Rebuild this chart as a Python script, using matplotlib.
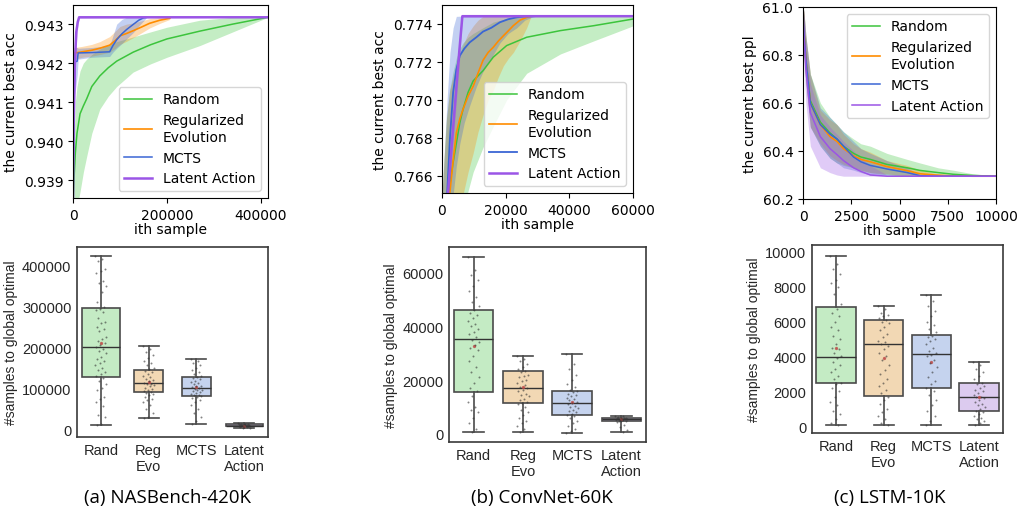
import numpy as np
import matplotlib
matplotlib.use('Agg')
import matplotlib.pyplot as plt
from matplotlib.ticker import FormatStrFormatter

# ---------------- curve data ----------------
methods = ['Random', 'Regularized\nEvolution', 'MCTS', 'Latent Action']
colors = ['#3cc43c', '#ff8c00', '#3a66d4', '#9b55e6']

# NASBench-420K
nas_rand_x = [0, 2000, 5000, 8500, 15000, 22000, 29000, 40000, 57000, 75000, 93000,
              128000, 165000, 200000, 270000, 340000, 415000]
nas_rand_mean = [0.9384, 0.9390, 0.9397, 0.9402, 0.9407, 0.9409, 0.94108, 0.94140, 0.94167,
                 0.94188, 0.94205, 0.94228, 0.94247, 0.94262, 0.94282, 0.94300, 0.943175]
nas_rand_low = [0.9380, 0.9380, 0.9381, 0.9383, 0.9387, 0.9392, 0.9396, 0.9402, 0.94082,
                0.94115, 0.94140, 0.94177, 0.94198, 0.94215, 0.94245, 0.94280, 0.943175]
nas_rand_high = [0.9386, 0.9400, 0.9410, 0.9414, 0.9418, 0.9420, 0.94210, 0.94222, 0.94236,
                 0.94247, 0.94255, 0.94267, 0.94280, 0.94292, 0.94310, 0.943175, 0.943175]

nas_reg_x = [0, 1500, 4000, 20000, 40000, 57000, 78000, 90000, 100000, 114000, 128000,
             145000, 163000, 185000, 206000]
nas_reg_mean = [0.9412, 0.9420, 0.94226, 0.94229, 0.94233, 0.94238, 0.94246, 0.94258, 0.94270,
                0.94276, 0.94283, 0.94292, 0.94302, 0.94310, 0.94315]
nas_reg_low = [0.9405, 0.9415, 0.94210, 0.94215, 0.94218, 0.94222, 0.94228, 0.94238, 0.94248,
               0.94256, 0.94265, 0.94277, 0.94290, 0.94302, 0.94312]
nas_reg_high = [0.9418, 0.9424, 0.94240, 0.94243, 0.94248, 0.94255, 0.94268, 0.94282, 0.94294,
                0.94300, 0.94303, 0.94308, 0.94314, 0.94317, 0.943175]

nas_mcts_x = [0, 1500, 4000, 9000, 11000, 40000, 78000, 85000, 93000, 104000, 114000,
              128000, 140000, 150000, 157000]
nas_mcts_mean = [0.9385, 0.9405, 0.94203, 0.94205, 0.94226, 0.94227, 0.94229, 0.94245, 0.94260,
                 0.94275, 0.94286, 0.94299, 0.94310, 0.94316, 0.943175]
nas_mcts_low = [0.9380, 0.9390, 0.9412, 0.9417, 0.9421, 0.94215, 0.94217, 0.94228, 0.94238,
                0.94250, 0.94262, 0.94278, 0.94295, 0.94308, 0.943175]
nas_mcts_high = [0.9390, 0.9418, 0.9424, 0.9424, 0.94238, 0.94240, 0.94245, 0.94270, 0.94300,
                 0.94312, 0.943175, 0.943175, 0.943175, 0.943175, 0.943175]

nas_lat_x = [0, 1500, 4000, 7000, 10000, 13000, 415000]
nas_lat_mean = [0.9384, 0.9405, 0.9420, 0.9428, 0.94305, 0.943175, 0.943175]
nas_lat_low = [0.9380, 0.9400, 0.9416, 0.9425, 0.9429, 0.94315, 0.943175]
nas_lat_high = [0.9388, 0.9410, 0.9424, 0.9430, 0.94315, 0.943175, 0.943175]

# ConvNet-60K
conv_rand_x = [0, 1400, 2400, 3500, 4500, 5600, 6600, 8200, 9800, 12900, 16100, 20300,
               26600, 37200, 47700, 60000]
conv_rand_mean = [0.7600, 0.7640, 0.7655, 0.7667, 0.7677, 0.76879, 0.7695, 0.7704, 0.7710,
                  0.77154, 0.77225, 0.77286, 0.77330, 0.77365, 0.77391, 0.77426]
conv_rand_low = [0.7550, 0.7580, 0.7600, 0.7615, 0.7625, 0.7635, 0.7642, 0.7652, 0.7662,
                 0.7675, 0.7686, 0.7700, 0.7714, 0.77242, 0.77311, 0.7739]
conv_rand_high = [0.7650, 0.7690, 0.7705, 0.7715, 0.7722, 0.7727, 0.7730, 0.7733, 0.7735,
                  0.7738, 0.7741, 0.77428, 0.77441, 0.77441, 0.77441, 0.77441]

conv_reg_x = [0, 1400, 2400, 3500, 4500, 5600, 6600, 8200, 9800, 11300, 12900, 14500,
              16100, 17700, 19300, 20900, 22400, 24500, 26600, 28000]
conv_reg_mean = [0.7600, 0.7630, 0.7650, 0.7668, 0.76826, 0.7690, 0.7695, 0.7702, 0.77072,
                 0.7714, 0.77209, 0.7725, 0.77277, 0.7731, 0.77338, 0.77365, 0.77391, 0.7742,
                 0.77435, 0.77441]
conv_reg_low = [0.7550, 0.7570, 0.7590, 0.7610, 0.7625, 0.7640, 0.7650, 0.7662, 0.7672,
                0.7683, 0.7692, 0.7700, 0.7705, 0.7712, 0.7718, 0.7722, 0.7725, 0.7731,
                0.7738, 0.77441]
conv_reg_high = [0.7650, 0.7690, 0.7705, 0.7712, 0.7718, 0.7724, 0.7729, 0.7735, 0.7739,
                 0.7742, 0.7744, 0.77441, 0.77441, 0.77441, 0.77441, 0.77441, 0.77441,
                 0.77441, 0.77441, 0.77441]

conv_mcts_x = [0, 1600, 2500, 3500, 4500, 5600, 7000, 8700, 10800, 12900, 15500, 18200,
               20800, 23500, 26000, 29000]
conv_mcts_mean = [0.7600, 0.7650, 0.7680, 0.7704, 0.7716, 0.77233, 0.7727, 0.77303, 0.7733,
                  0.7736, 0.7738, 0.77409, 0.77425, 0.77435, 0.77440, 0.77441]
conv_mcts_low = [0.7550, 0.7600, 0.7630, 0.7650, 0.7665, 0.7677, 0.7688, 0.7697, 0.7707,
                 0.7715, 0.7722, 0.7730, 0.7735, 0.7738, 0.7742, 0.77441]
conv_mcts_high = [0.7650, 0.7700, 0.7725, 0.7738, 0.7744, 0.77441, 0.77441, 0.77441, 0.77441,
                  0.77441, 0.77441, 0.77441, 0.77441, 0.77441, 0.77441, 0.77441]

conv_lat_x = [0, 1900, 3000, 4200, 5400, 6400, 60000]
conv_lat_mean = [0.7620, 0.7651, 0.7675, 0.7700, 0.7725, 0.77441, 0.77441]
conv_lat_low = [0.7610, 0.7645, 0.7668, 0.7692, 0.7718, 0.77435, 0.77441]
conv_lat_high = [0.7630, 0.7658, 0.7683, 0.7708, 0.7732, 0.77441, 0.77441]

# LSTM-10K
lstm_x = [0, 50, 150, 380, 900, 1400, 1760, 2100, 2620, 3000, 3490, 4350, 5400, 6070,
          7000, 7790, 8800, 10000]
lstm_rand_mean = [61.0, 60.9, 60.78, 60.61, 60.52, 60.475, 60.45, 60.42, 60.39, 60.375,
                  60.365, 60.344, 60.33, 60.319, 60.31, 60.303, 60.298, 60.295]
lstm_rand_low = [61.0, 60.8, 60.68, 60.5, 60.42, 60.37, 60.35, 60.34, 60.33, 60.32, 60.31,
                 60.30, 60.295, 60.295, 60.295, 60.295, 60.295, 60.295]
lstm_rand_high = [61.0, 60.98, 60.88, 60.72, 60.60, 60.54, 60.51, 60.48, 60.45, 60.43, 60.42,
                  60.39, 60.365, 60.35, 60.33, 60.32, 60.305, 60.295]
lstm_reg_mean = [61.0, 60.9, 60.78, 60.60, 60.51, 60.46, 60.44, 60.41, 60.38, 60.365, 60.355,
                 60.335, 60.318, 60.305, 60.299, 60.296, 60.295, 60.295]
lstm_reg_low = [61.0, 60.8, 60.68, 60.5, 60.43, 60.38, 60.36, 60.345, 60.33, 60.32, 60.31,
                60.305, 60.295, 60.295, 60.295, 60.295, 60.295, 60.295]
lstm_reg_high = [61.0, 60.98, 60.88, 60.72, 60.57, 60.53, 60.51, 60.47, 60.43, 60.41, 60.395,
                 60.36, 60.34, 60.32, 60.305, 60.298, 60.295, 60.295]
lstm_mcts_mean = [61.0, 60.9, 60.78, 60.60, 60.51, 60.47, 60.45, 60.42, 60.375, 60.355, 60.34,
                  60.325, 60.31, 60.297, 60.295, 60.295, 60.295, 60.295]
lstm_mcts_low = [61.0, 60.8, 60.68, 60.5, 60.42, 60.37, 60.35, 60.33, 60.32, 60.31, 60.30,
                 60.30, 60.295, 60.295, 60.295, 60.295, 60.295, 60.295]
lstm_mcts_high = [61.0, 60.98, 60.88, 60.72, 60.58, 60.54, 60.51, 60.48, 60.44, 60.41, 60.39,
                  60.36, 60.33, 60.30, 60.295, 60.295, 60.295, 60.295]
lstm_lat_mean = [61.0, 60.88, 60.74, 60.56, 60.46, 60.41, 60.385, 60.36, 60.33, 60.315, 60.30,
                 60.295, 60.295, 60.295, 60.295, 60.295, 60.295, 60.295]
lstm_lat_low = [61.0, 60.75, 60.6, 60.42, 60.33, 60.31, 60.30, 60.295, 60.295, 60.295, 60.295,
                60.295, 60.295, 60.295, 60.295, 60.295, 60.295, 60.295]
lstm_lat_high = [61.0, 60.98, 60.86, 60.68, 60.55, 60.50, 60.47, 60.44, 60.40, 60.37, 60.34,
                 60.30, 60.295, 60.295, 60.295, 60.295, 60.295, 60.295]

# ---------------- box plot data ----------------
box_labels = ['Rand', 'Reg\nEvo', 'MCTS', 'Latent\nAction']
box_colors = ['#c4ebc4', '#f2d8b4', '#c5d3ee', '#dccbef']

# (whislo, q1, med, q3, whishi, mean)
nas_stats = [(10500, 127600, 199300, 295000, 421000, 209000),
             (26000, 89500, 111500, 144000, 203000, 115000),
             (12000, 81300, 100000, 126000, 170700, 103000),
             (3000, 6500, 8500, 11000, 14000, 8500)]
conv_stats = [(850, 15700, 35250, 45900, 65600, 32600),
              (850, 11500, 17200, 23300, 28900, 17500),
              (300, 7050, 11500, 15850, 29600, 11800),
              (850, 4950, 5500, 5950, 6800, 5400)]
lstm_stats = [(90, 2460, 3970, 6820, 9750, 4500),
              (90, 1720, 4700, 6090, 6910, 3900),
              (90, 2180, 4125, 5230, 7520, 3700),
              (90, 895, 1660, 2460, 3700, 1650)]

nas_points = [
    [421, 415, 410, 390, 385, 380, 360, 355, 350, 335, 310, 298, 292, 290, 285, 270, 262, 258,
     250, 245, 240, 225, 220, 215, 210, 205, 200, 195, 190, 185, 175, 170, 165, 160, 155, 150,
     145, 140, 135, 130, 125, 118, 110, 100, 95, 78, 72, 65, 55, 35, 30, 12, 10],
    [203, 195, 188, 180, 172, 165, 160, 155, 150, 146, 142, 138, 135, 130, 126, 122, 119, 116,
     113, 111, 109, 107, 104, 101, 98, 95, 92, 90, 88, 85, 82, 78, 74, 70, 65, 58, 50, 40, 30, 26],
    [171, 165, 160, 155, 150, 145, 140, 135, 130, 127, 124, 121, 118, 115, 112, 109, 106, 104,
     102, 100, 98, 96, 94, 92, 90, 88, 86, 84, 82, 80, 78, 75, 70, 65, 58, 50, 40, 30, 20, 12],
    [14, 13, 12.5, 12, 11.5, 11, 10.5, 10, 9.5, 9, 8.8, 8.5, 8.2, 8, 7.5, 7, 6.5, 6, 5, 4, 3, 2],
]
conv_points = [
    [65.6, 61, 59, 57, 55, 53, 51, 49, 47.5, 46, 45, 44, 43, 42, 41, 40, 39, 38, 37, 36, 35, 34,
     33, 32, 31, 29, 27, 25, 23, 21, 19, 17, 16, 14, 12, 10, 9, 8, 6, 4, 2, 0.85],
    [28.9, 28, 27, 26, 25, 24, 23.5, 23, 22, 21.5, 21, 20, 19.5, 19, 18, 17.5, 17, 16.5, 16, 15,
     14.5, 14, 13, 12.5, 12, 11.5, 11, 10, 9, 8, 7, 6, 5, 4, 3, 2, 0.85],
    [29.6, 26, 24, 22, 20, 18.5, 17.5, 16.5, 16, 15.5, 15, 14.5, 14, 13.5, 13, 12.5, 12, 11.5, 11,
     10.5, 10, 9.5, 9, 8.5, 8, 7.5, 7, 6.5, 6, 5, 4, 3, 2, 1, 0.3],
    [6.8, 6.5, 6.3, 6.1, 6, 5.9, 5.8, 5.7, 5.6, 5.5, 5.5, 5.4, 5.3, 5.2, 5.1, 5, 4.9, 4.7, 4.3,
     3.5, 2.5, 1.5, 0.85],
]
lstm_points = [
    [9750, 9300, 9000, 8700, 8400, 8200, 8000, 7600, 7000, 6700, 6500, 6300, 6000, 5700, 5500,
     5200, 5000, 4700, 4500, 4400, 4200, 4000, 3900, 3700, 3500, 3300, 3100, 2900, 2700, 2500,
     2400, 2200, 2000, 1700, 1400, 1200, 900, 700, 400, 200, 90],
    [6910, 6700, 6500, 6400, 6300, 6200, 6100, 6000, 5900, 5700, 5500, 5300, 5100, 4900, 4800,
     4700, 4600, 4400, 4200, 4000, 3800, 3500, 3200, 3000, 2700, 2500, 2300, 2100, 1900, 1700,
     1500, 1300, 1000, 800, 600, 400, 200, 90],
    [7520, 7200, 6900, 6600, 6300, 6000, 5800, 5600, 5400, 5200, 5100, 5000, 4900, 4700, 4500,
     4300, 4200, 4100, 4000, 3800, 3600, 3400, 3100, 2800, 2600, 2400, 2200, 2000, 1800, 1500,
     1200, 900, 600, 300, 90],
    [3700, 3500, 3300, 3100, 2900, 2700, 2500, 2400, 2300, 2200, 2100, 2000, 1900, 1800, 1700,
     1650, 1600, 1500, 1400, 1300, 1200, 1100, 1000, 900, 800, 700, 600, 500, 400, 300, 200, 90],
]

captions = ['(a) NASBench-420K', '(b) ConvNet-60K', '(c) LSTM-10K']

W, H = 1019, 510
fig = plt.figure(figsize=(W / 100, H / 100), dpi=100)


def px_axes(l, t, r, b):
    return fig.add_axes([l / W, 1 - b / H, (r - l) / W, (b - t) / H])


def curve_panel(ax, series, xlim, ylim, xticks, yticks, yfmt, ylabel, loc, lws):
    for (x, m, lo, hi), c, lab, lw in zip(series, colors, methods, lws):
        ax.fill_between(x, lo, hi, color=c, alpha=0.3, linewidth=0)
        ax.plot(x, m, color=c, lw=lw, label=lab)
    ax.set_xlim(*xlim)
    ax.set_ylim(*ylim)
    ax.set_xticks(xticks)
    ax.set_yticks(yticks)
    ax.yaxis.set_major_formatter(FormatStrFormatter(yfmt))
    ax.tick_params(labelsize=10)
    ax.set_xlabel('ith sample', fontsize=10, labelpad=0)
    ax.set_ylabel(ylabel, fontsize=10)
    ax.legend(loc=loc, fontsize=10)


def box_panel(ax, stats, points, scale, ylim, yticks, widths):
    bstats = []
    for (wl, q1, md, q3, wh, mn) in stats:
        bstats.append(dict(whislo=wl, q1=q1, med=md, q3=q3, whishi=wh, mean=mn, fliers=[]))
    edge = '#4a4a4a'
    bp = ax.bxp(bstats, positions=range(4), widths=widths, capwidths=0.42,
                patch_artist=True, showmeans=True,
                boxprops=dict(edgecolor=edge, linewidth=1.2),
                medianprops=dict(color='#333333', linewidth=1.0),
                whiskerprops=dict(color=edge, linewidth=1.2),
                capprops=dict(color=edge, linewidth=1.2),
                meanprops=dict(marker='o', markersize=1.4, markerfacecolor='#c0504d',
                               markeredgecolor='#c0504d', alpha=0.8))
    for patch, c in zip(bp['boxes'], box_colors):
        patch.set_facecolor(c)
    for i, vals in enumerate(points):
        v = np.array(vals) * scale
        off = ((np.arange(len(v)) * 0.6180339) % 1 - 0.5) * 0.24
        ax.scatter(i + off, v, s=2, color='#333333', alpha=0.6, linewidths=0, zorder=4)
    ax.set_xlim(-0.5, 3.5)
    ax.set_ylim(*ylim)
    ax.set_yticks(yticks)
    ax.set_xticks(range(4))
    ax.set_xticklabels(box_labels)
    ax.tick_params(length=0, labelsize=10.5, colors='#262626', pad=4)
    for lab in ax.get_xticklabels() + ax.get_yticklabels():
        lab.set_family('Liberation Sans')
    for s in ax.spines.values():
        s.set_color('#3a3a3a')
        s.set_linewidth(1.2)
    ax.set_ylabel('#samples to global optimal', fontsize=10, family='Liberation Sans',
                  color='#262626', labelpad=3)


ax1 = px_axes(73, 6, 268, 199)
curve_panel(ax1,
            [(nas_rand_x, nas_rand_mean, nas_rand_low, nas_rand_high),
             (nas_reg_x, nas_reg_mean, nas_reg_low, nas_reg_high),
             (nas_mcts_x, nas_mcts_mean, nas_mcts_low, nas_mcts_high),
             (nas_lat_x, nas_lat_mean, nas_lat_low, nas_lat_high)],
            (0, 415000), (0.93854, 0.94349), [0, 200000, 400000],
            [0.939, 0.940, 0.941, 0.942, 0.943], '%.3f', 'the current best acc',
            'lower right', [1.1, 1.2, 1.1, 1.8])

ax2 = px_axes(442, 6, 633, 194)
curve_panel(ax2,
            [(conv_rand_x, conv_rand_mean, conv_rand_low, conv_rand_high),
             (conv_reg_x, conv_reg_mean, conv_reg_low, conv_reg_high),
             (conv_mcts_x, conv_mcts_mean, conv_mcts_low, conv_mcts_high),
             (conv_lat_x, conv_lat_mean, conv_lat_low, conv_lat_high)],
            (0, 60000), (0.76509, 0.7750), [0, 20000, 40000, 60000],
            [0.766, 0.768, 0.770, 0.772, 0.774], '%.3f', 'the current best acc',
            'lower right', [1.1, 1.2, 1.3, 1.8])

ax3 = px_axes(803, 8, 996, 200)
curve_panel(ax3,
            [(lstm_x, lstm_rand_mean, lstm_rand_low, lstm_rand_high),
             (lstm_x, lstm_reg_mean, lstm_reg_low, lstm_reg_high),
             (lstm_x, lstm_mcts_mean, lstm_mcts_low, lstm_mcts_high),
             (lstm_x, lstm_lat_mean, lstm_lat_low, lstm_lat_high)],
            (0, 10000), (60.2, 61.0), [0, 2500, 5000, 7500, 10000],
            [60.2, 60.4, 60.6, 60.8, 61.0], '%.1f', 'the current best ppl',
            'upper right', [1.1, 1.2, 1.1, 1.1])

bx1 = px_axes(77, 248, 268, 438)
box_panel(bx1, nas_stats, nas_points, 1000, (-19500, 444000),
          [0, 100000, 200000, 300000, 400000], [0.8, 0.6, 0.62, 0.78])
bx2 = px_axes(449, 248, 646, 443)
box_panel(bx2, conv_stats, conv_points, 1000, (-2970, 69400),
          [0, 20000, 40000, 60000], [0.8, 0.8, 0.8, 0.8])
bx3 = px_axes(812, 246, 1003, 434)
box_panel(bx3, lstm_stats, lstm_points, 1, (-384, 10384),
          [0, 2000, 4000, 6000, 8000, 10000], [0.85, 0.82, 0.82, 0.85])

for cx, txt in zip([167, 542, 890], captions):
    fig.text(cx / W, 1 - 498 / H, txt, ha='center', va='center', fontsize=13.5,
             family=['Liberation Sans Narrow', 'Open Sans', 'DejaVu Sans'])

fig.savefig('out.png', dpi=100)
